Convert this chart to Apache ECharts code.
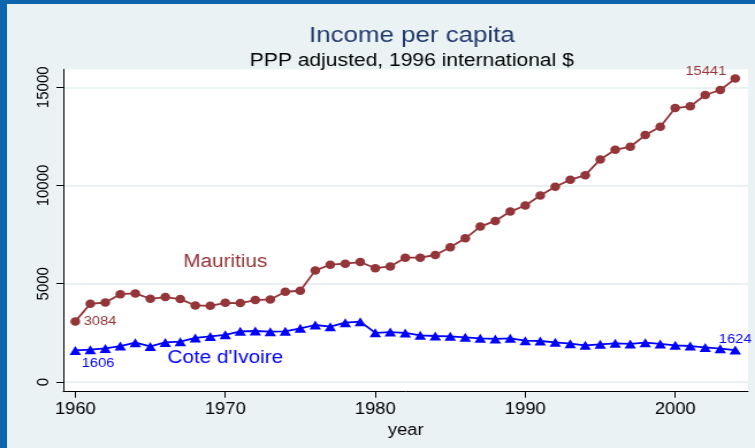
<!DOCTYPE html>
<html><head><meta charset="utf-8">
<script src="https://cdn.jsdelivr.net/npm/echarts@6/dist/echarts.min.js"></script>
<style>
html,body{margin:0;padding:0;background:#EAF2F3;overflow:hidden;width:755px;height:448px;}
#wrap{position:relative;width:755px;height:448px;overflow:hidden;background:#EAF2F3;}
#chart{position:absolute;left:0;top:0;width:656px;height:448px;transform:scaleX(1.150915);transform-origin:0 0;}
#bl{position:absolute;left:0;top:0;width:7px;height:448px;background:#0f64ae;}
#bt{position:absolute;left:0;top:0;width:755px;height:4px;background:#0f64ae;}
</style></head><body>
<div id="wrap"><div id="chart"></div><div id="bl"></div><div id="bt"></div></div>
<script>
const years = [1960,1961,1962,1963,1964,1965,1966,1967,1968,1969,
               1970,1971,1972,1973,1974,1975,1976,1977,1978,1979,
               1980,1981,1982,1983,1984,1985,1986,1987,1988,1989,
               1990,1991,1992,1993,1994,1995,1996,1997,1998,1999,
               2000,2001,2002,2003,2004];
const mauritius = [3084,3980,4046,4470,4507,4235,4320,4218,3894,3877,
                   4030,4014,4167,4201,4592,4643,5680,5969,6020,6105,
                   5790,5880,6327,6327,6463,6854,7313,7908,8197,8673,
                   8980,9490,9933,10290,10527,11327,11820,11974,12566,12994,
                   13944,14031,14607,14862,15441];
const coteDIvoire = [1606,1645,1710,1830,2000,1810,2015,2050,2240,2320,
                     2400,2580,2595,2560,2580,2730,2900,2815,3020,3070,
                     2500,2540,2495,2375,2340,2325,2275,2220,2190,2220,
                     2100,2085,2020,1950,1865,1915,1965,1935,2000,1935,
                     1865,1830,1760,1695,1624];
const xTicks = [1960,1970,1980,1990,2000];
const yTicks = [0,5000,10000,15000];

const MAROON = '#943539';
const BLUE = '#0000ff';
const FONT = 'Liberation Sans, Arial, sans-serif';

function build(vals, firstLabel, lastLabel) {
  return years.map((y, i) => {
    const item = { value: [y, vals[i]] };
    if (i === 0) item.label = firstLabel;
    if (i === vals.length - 1) item.label = lastLabel;
    return item;
  });
}
const lblFmt = p => String(p.value[1]);
const plain = v => String(v);

const chart = echarts.init(document.getElementById('chart'), null, { renderer: 'canvas' });
chart.setOption({
  animation: false,
  backgroundColor: 'transparent',
  title: [
    { text: 'Income per capita', left: 352.8, top: 19, textAlign: 'center',
      textStyle: { fontFamily: FONT, fontSize: 22.5, fontWeight: 'normal', color: '#243a6b' } },
    { text: 'PPP adjusted, 1996 international $', left: 352.8, top: 46.5, textAlign: 'center',
      textStyle: { fontFamily: FONT, fontSize: 18.3, fontWeight: 'normal', color: '#000' } }
  ],
  grid: { left: 55.0, right: 6.1, top: 69.3, bottom: 56.3, show: true, backgroundColor: '#ffffff', borderWidth: 0, containLabel: false },
  xAxis: {
    type: 'value', min: 1959.2, max: 2004.85,
    axisLine: { show: true, onZero: false, lineStyle: { color: '#000', width: 1 } },
    axisTick: { show: true, customValues: xTicks, length: 6, lineStyle: { color: '#000' } },
    axisLabel: { customValues: xTicks, formatter: plain, fontFamily: FONT, fontSize: 16, color: '#000', margin: 10 },
    splitLine: { show: false },
    name: 'year', nameLocation: 'middle', nameGap: 23.5,
    nameTextStyle: { fontFamily: FONT, fontSize: 16, color: '#000' }
  },
  yAxis: {
    type: 'value', min: -495, max: 15915,
    axisLine: { show: true, onZero: false, lineStyle: { color: '#000', width: 1 } },
    axisTick: { show: true, customValues: yTicks, length: 6, lineStyle: { color: '#000' } },
    axisLabel: { customValues: yTicks, formatter: plain, rotate: 90, fontFamily: FONT, fontSize: 15, color: '#000', margin: 10 },
    splitLine: { show: false }
  },
  series: [
    {
      type: 'line', data: [], silent: true, z: 0,
      markLine: {
        silent: true, symbol: 'none', label: { show: false }, z: 0,
        lineStyle: { color: '#E3ECEF', width: 1.6, type: 'solid' },
        data: yTicks.map(v => ({ yAxis: v }))
      }
    },
    {
      name: 'Mauritius', type: 'line', z: 3,
      data: build(mauritius,
        { show: true, position: 'right', distance: 3, formatter: lblFmt, color: MAROON, fontFamily: FONT, fontSize: 12.8 },
        { show: true, position: 'left', distance: 3.5, offset: [0, -7], formatter: lblFmt, color: MAROON, fontFamily: FONT, fontSize: 12.8 }),
      symbol: 'circle', symbolSize: 8.5,
      lineStyle: { color: MAROON, width: 1.8 },
      itemStyle: { color: MAROON },
      label: { show: false },
      markPoint: {
        symbol: 'circle', symbolSize: 0, silent: true,
        label: { show: true, position: 'inside', formatter: 'Mauritius', color: MAROON, fontFamily: FONT, fontSize: 18 },
        data: [{ coord: [1970, 6082] }]
      }
    },
    {
      name: "Cote d'Ivoire", type: 'line', z: 3,
      data: build(coteDIvoire,
        { show: true, position: 'right', distance: 0.5, offset: [0, 13], formatter: lblFmt, color: BLUE, fontFamily: FONT, fontSize: 12.8 },
        { show: true, position: 'top', distance: 0, formatter: lblFmt, color: BLUE, fontFamily: FONT, fontSize: 12.8 }),
      symbol: 'triangle', symbolSize: [10, 9],
      lineStyle: { color: BLUE, width: 1.8 },
      itemStyle: { color: BLUE },
      label: { show: false },
      markPoint: {
        symbol: 'circle', symbolSize: 0, silent: true,
        label: { show: true, position: 'inside', formatter: "Cote d'Ivoire", color: BLUE, fontFamily: FONT, fontSize: 18 },
        data: [{ coord: [1970, 1222] }]
      }
    }
  ]
});
</script>
</body></html>
